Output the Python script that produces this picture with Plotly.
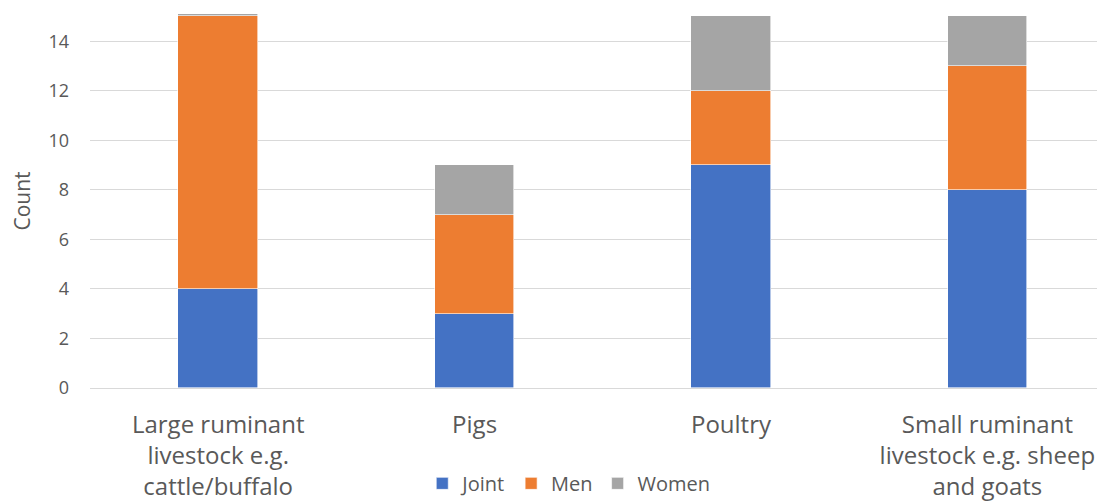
import plotly.graph_objects as go

categories = ["Large ruminant<br>livestock e.g.<br>cattle/buffalo", "Pigs", "Poultry",
              "Small ruminant<br>livestock e.g. sheep<br>and goats"]
joint = [4, 3, 9, 8]
men = [11, 4, 3, 5]
women = [1, 2, 3, 2]

colors = {"Joint": "#4472C4", "Men": "#ED7D31", "Women": "#A5A5A5"}
fig = go.Figure()
for name, vals in [("Joint", joint), ("Men", men), ("Women", women)]:
    fig.add_trace(go.Bar(name=name, x=list(range(len(categories))), y=vals,
                         marker=dict(color=colors[name], line=dict(color="#ffffff", width=0.6)),
                         width=0.31))

fig.update_layout(
    barmode="stack",
    width=1105, height=503,
    margin=dict(l=82, r=0, t=6, b=123, autoexpand=False),
    plot_bgcolor="white", paper_bgcolor="white",
    font=dict(family="Open Sans", color="#595959"),
    xaxis=dict(tickmode="array", tickvals=list(range(len(categories))), ticktext=categories,
               range=[-0.5, 3.49], showgrid=False, zeroline=False, showline=False,
               tickfont=dict(size=24, color="#595959"), ticks="", automargin=False,
               ticklabelstandoff=20),
    yaxis=dict(range=[0, 15.1], dtick=2, showgrid=True, gridcolor="#d9d9d9", gridwidth=1.3,
               zeroline=True, zerolinecolor="#d9d9d9", zerolinewidth=1.3,
               tickfont=dict(size=18, color="#595959"), ticks="", ticklen=0, automargin=False,
               ticklabelstandoff=20,
               title=dict(text="Count", font=dict(size=21, color="#595959"), standoff=22)),
    legend=dict(orientation="h", x=0.468, xanchor="center", y=-0.255, yanchor="middle",
                font=dict(size=20, color="#595959"), traceorder="normal",
                itemwidth=30),
    bargap=0,
)
fig.write_html("out.html")
